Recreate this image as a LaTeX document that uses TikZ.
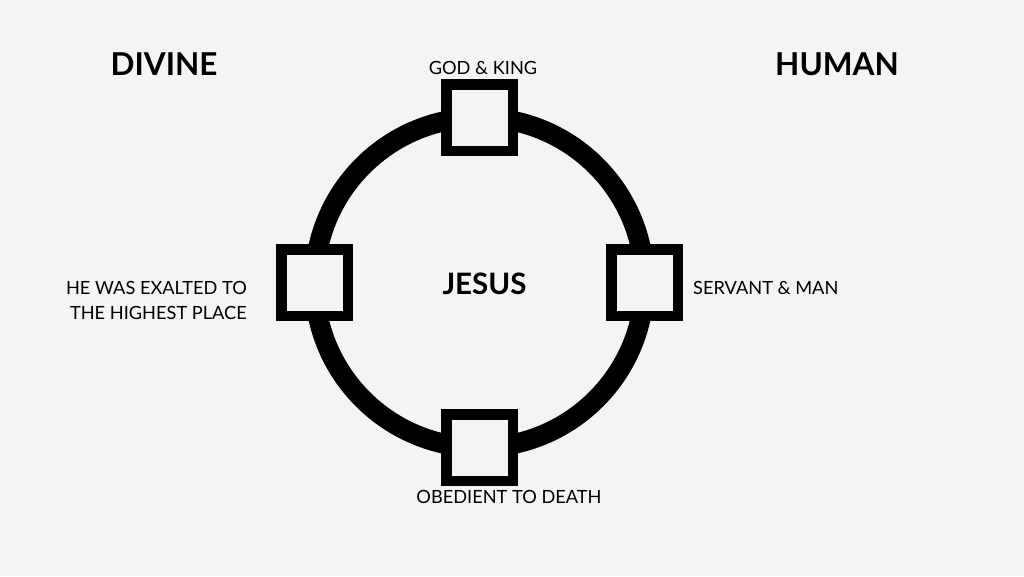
\documentclass[tikz,border=0pt]{standalone}
\usepackage{fontspec}
\setmainfont{Lato}
\definecolor{bg}{HTML}{F4F4F4}
\begin{document}
\begin{tikzpicture}[x=1pt,y=-1pt,
  ringstyle/.style={circle, draw=black, line width=20pt, minimum size=330pt, inner sep=0pt, outer sep=0pt},
  sqbox/.style={rectangle, draw=black, fill=bg, line width=10.5pt, minimum size=66.5pt, inner sep=0pt, outer sep=0pt},
  heading/.style={font=\fontsize{31.5}{36}\selectfont\bfseries, inner sep=0pt},
  label/.style={font=\fontsize{18.2}{25}\selectfont, inner sep=0pt},
]
\fill[bg] (0,0) rectangle (1024,576);
\useasboundingbox (0,0) rectangle (1024,576);
\node[ringstyle] (ring) at (479.5,282.5) {};
\node[sqbox] (top) at (ring.north) {};
\node[sqbox] (bottom) at (ring.south) {};
\node[sqbox] (left) at (ring.west) {};
\node[sqbox] (right) at (ring.east) {};
\node[heading] (divine) at (164,64) {DIVINE};
\node[heading] (human) at (837,64) {HUMAN};
\node[font=\fontsize{29.5}{34}\selectfont\bfseries, inner sep=0pt] (jesus) at (484.5,284) {JESUS};
\node[label] (god) at (483,68) {GOD \& KING};
\node[label, anchor=west] (servant) at (693,288) {SERVANT \& MAN};
\node[label] (obedient) at (509,497) {OBEDIENT TO DEATH};
\node[label, align=right, anchor=east] (exalted) at (247,300.5) {HE WAS EXALTED TO\\THE HIGHEST PLACE};
\end{tikzpicture}
\end{document}
